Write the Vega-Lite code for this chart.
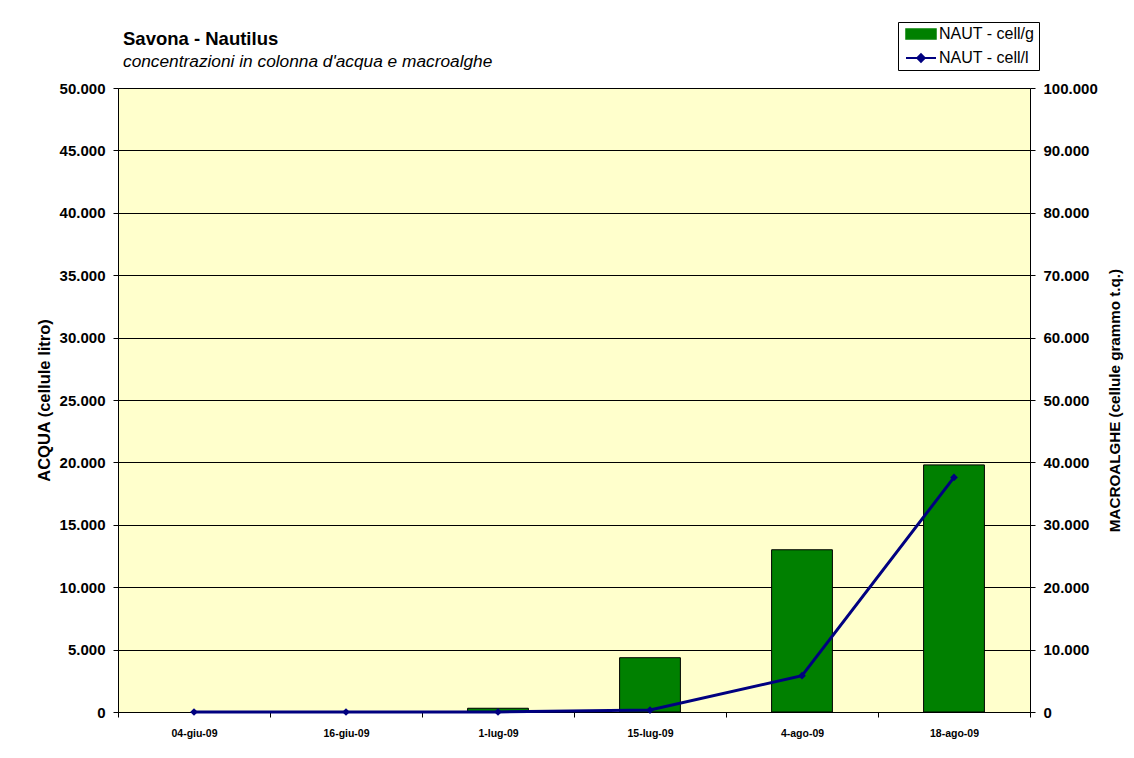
{
  "$schema": "https://vega.github.io/schema/vega-lite/v6.json",
  "autosize": "none",
  "width": 912,
  "height": 624,
  "padding": {"left": 118, "top": 88, "right": 104, "bottom": 46},
  "background": "white",
  "config": {
    "font": "Liberation Sans",
    "locale": {"number": {"decimal": ",", "thousands": ".", "grouping": [3], "currency": ["€", ""]}},
    "view": {"fill": "#FFFFCC", "stroke": "#808080", "strokeWidth": 1}
  },
  "title": {
    "text": "Savona - Nautilus",
    "subtitle": "concentrazioni in colonna d'acqua e macroalghe",
    "anchor": "start",
    "frame": "group",
    "dx": 5,
    "dy": 63,
    "offset": 14,
    "font": "Liberation Sans",
    "fontSize": 18.5,
    "fontWeight": "bold",
    "color": "#000000",
    "subtitleFont": "Liberation Sans",
    "subtitleFontSize": 17.3,
    "subtitleFontStyle": "italic",
    "subtitleColor": "#000000",
    "subtitlePadding": 5
  },
  "data": {
    "values": [
      {"data": "04-giu-09", "serie": "NAUT - cell/g", "valore": 0},
      {"data": "16-giu-09", "serie": "NAUT - cell/g", "valore": 0},
      {"data": "1-lug-09", "serie": "NAUT - cell/g", "valore": 600},
      {"data": "15-lug-09", "serie": "NAUT - cell/g", "valore": 8700},
      {"data": "4-ago-09", "serie": "NAUT - cell/g", "valore": 26000},
      {"data": "18-ago-09", "serie": "NAUT - cell/g", "valore": 39600},
      {"data": "04-giu-09", "serie": "NAUT - cell/l", "valore": 0},
      {"data": "16-giu-09", "serie": "NAUT - cell/l", "valore": 0},
      {"data": "1-lug-09", "serie": "NAUT - cell/l", "valore": 0},
      {"data": "15-lug-09", "serie": "NAUT - cell/l", "valore": 160},
      {"data": "4-ago-09", "serie": "NAUT - cell/l", "valore": 2910},
      {"data": "18-ago-09", "serie": "NAUT - cell/l", "valore": 18800}
    ]
  },
  "encoding": {
    "x": {
      "field": "data",
      "type": "ordinal",
      "sort": null,
      "scale": {"domain": ["04-giu-09", "16-giu-09", "1-lug-09", "15-lug-09", "4-ago-09", "18-ago-09"], "paddingInner": 0, "paddingOuter": 0},
      "axis": {
        "title": null,
        "labelAngle": 0,
        "labelFontSize": 10.5,
        "labelFontWeight": "bold",
        "labelColor": "#000000",
        "labelPadding": 11,
        "tickBand": "extent",
        "tickSize": 5,
        "tickColor": "#000000",
        "domainColor": "#000000",
        "grid": false
      }
    },
    "color": {
      "field": "serie",
      "type": "nominal",
      "scale": {"domain": ["NAUT - cell/g", "NAUT - cell/l"], "range": ["#008000", "#000080"]},
      "legend": {
        "title": null,
        "orient": "none",
        "legendX": 780,
        "legendY": -66,
        "strokeColor": "#000000",
        "fillColor": "#FFFFFF",
        "padding": 4,
        "labelFontSize": 16,
        "labelFont": "Liberation Sans",
        "labelColor": "#000000",
        "symbolOffset": 11,
        "labelOffset": 10,
        "rowPadding": 8,
        "symbolSize": 900,
        "encode": {
          "symbols": {
            "update": {
              "shape": {"signal": "datum.value === 'NAUT - cell/g' ? 'M-1,-0.33H1V0.33H-1Z' : 'M-1,0H1M0,-0.25L0.25,0L0,0.25L-0.25,0Z'"},
              "fill": {"signal": "datum.value === 'NAUT - cell/g' ? '#008000' : '#000080'"},
              "stroke": {"signal": "datum.value === 'NAUT - cell/g' ? '#000000' : '#000080'"},
              "strokeWidth": {"signal": "datum.value === 'NAUT - cell/g' ? 1.5 : 2"},
              "opacity": {"value": 1},
              "fillOpacity": {"value": 1},
              "strokeOpacity": {"value": 1}
            }
          }
        }
      }
    }
  },
  "layer": [
    {
      "transform": [{"filter": "datum.serie === 'NAUT - cell/g' && datum.valore > 0"}],
      "mark": {"type": "bar", "width": {"band": 0.4}, "stroke": "#000000", "strokeWidth": 1, "opacity": 1},
      "encoding": {
        "y": {
          "field": "valore",
          "type": "quantitative",
          "scale": {"domain": [0, 100000], "nice": false},
          "axis": {
            "orient": "right",
            "title": "MACROALGHE (cellule grammo t.q.)",
            "titleAngle": -90,
            "titleFontSize": 15.2,
            "titleFontWeight": "bold",
            "titleColor": "#000000",
            "titlePadding": 25,
            "format": ",.0f",
            "values": [0, 10000, 20000, 30000, 40000, 50000, 60000, 70000, 80000, 90000, 100000],
            "labelFontSize": 15,
            "labelFontWeight": "bold",
            "labelColor": "#000000",
            "labelPadding": 8,
            "tickSize": 5,
            "tickColor": "#000000",
            "domainColor": "#000000",
            "grid": false
          }
        }
      }
    },
    {
      "transform": [{"filter": "datum.serie === 'NAUT - cell/l'"}],
      "mark": {"type": "line", "strokeWidth": 3, "point": {"filled": true, "shape": "diamond", "size": 60, "color": "#000080"}},
      "encoding": {
        "y": {
          "field": "valore",
          "type": "quantitative",
          "scale": {"domain": [0, 50000], "nice": false},
          "axis": {
            "orient": "left",
            "title": "ACQUA (cellule litro)",
            "titleFontSize": 16.5,
            "titleFontWeight": "bold",
            "titleColor": "#000000",
            "titlePadding": 7,
            "format": ",.0f",
            "values": [0, 5000, 10000, 15000, 20000, 25000, 30000, 35000, 40000, 45000, 50000],
            "labelFontSize": 15,
            "labelFontWeight": "bold",
            "labelColor": "#000000",
            "labelPadding": 8,
            "tickSize": 5,
            "tickColor": "#000000",
            "domainColor": "#000000",
            "grid": true,
            "gridColor": "#000000",
            "gridWidth": 1
          }
        }
      }
    }
  ],
  "resolve": {"scale": {"y": "independent"}}
}
